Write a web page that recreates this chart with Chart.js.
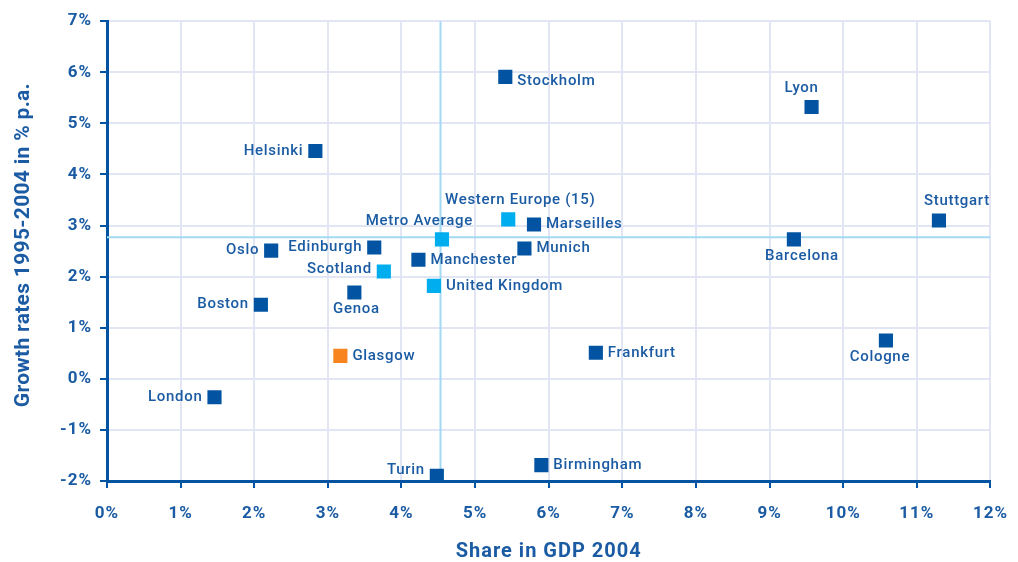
<!DOCTYPE html>
<html>
<head>
<meta charset="utf-8">
<script src="https://cdn.jsdelivr.net/npm/chart.js@4/dist/chart.umd.min.js"></script>
<style>
  html, body { margin: 0; background: #fff; overflow: hidden; }
  #wrap { width: 1024px; height: 559px; padding-top: 3px; }
</style>
</head>
<body>
<div id="wrap"><canvas id="c"></canvas></div>
<script>
const cities = ["Stockholm", "Lyon", "Helsinki", "Stuttgart", "Western Europe (15)", "Marseilles",
    "Metro Average", "Barcelona", "Edinburgh", "Oslo", "Munich", "Manchester", "Scotland",
    "United Kingdom", "Genoa", "Boston", "Cologne", "Glasgow", "Frankfurt", "London",
    "Birmingham", "Turin"];
const gdpShare = [5.41, 9.57, 2.83, 11.30, 5.45, 5.80, 4.55, 9.33, 3.63, 2.23, 5.67, 4.23, 3.76,
    4.44, 3.36, 2.09, 10.58, 3.17, 6.64, 1.46, 5.90, 4.48];
const growthRate = [5.91, 5.32, 4.46, 3.10, 3.12, 3.02, 2.73, 2.73, 2.57, 2.51, 2.55, 2.33, 2.10,
    1.82, 1.69, 1.45, 0.75, 0.45, 0.51, -0.36, -1.69, -1.90];
// "city", "ref" (aggregates) or "focus" (Glasgow)
const kind = ["city", "city", "city", "city", "ref", "city", "ref", "city", "city", "city", "city",
    "city", "ref", "ref", "city", "city", "city", "focus", "city", "city", "city", "city"];
const avgShare = 4.53;
const avgGrowth = 2.77;

const xTicks = { min: 0, max: 12, step: 1 };
const yTicks = { min: -2, max: 7, step: 1 };

// where each label sits relative to its marker
const labelSide = ["r", "t", "l", "t", "t", "r", "tl", "b", "l", "l", "r", "r", "l", "r", "b", "l",
    "b", "r", "r", "l", "r", "l"];
const labelNudge = {
    "Stockholm": [0, 4], "Lyon": [-10, 0], "Stuttgart": [18, 0], "Western Europe (15)": [12, 0],
    "Turin": [0, -6], "Scotland": [0, -2], "Genoa": [2, 0], "Cologne": [-6, 0], "Barcelona": [8, 0],
};

const DARK = "#0254a2";
const LIGHT = "#00aeef";
const ORANGE = "#f7841f";
const TEXT = "#1a5ba3";
const GRID = "#e2e5f4";

const colorFor = (k) => (k === "ref" ? LIGHT : k === "focus" ? ORANGE : DARK);

// DIN-like look: a little extra tracking on all canvas text
const tracking = {
    id: "tracking",
    beforeLayout(chart) { chart.ctx.letterSpacing = "1px"; },
    beforeDraw(chart) { chart.ctx.letterSpacing = "1px"; },
};

const pointLabels = {
    id: "pointLabels",
    afterDatasetsDraw(chart) {
        const ctx = chart.ctx;
        const meta = chart.getDatasetMeta(2);
        ctx.save();
        ctx.font = "500 15px Roboto";
        ctx.letterSpacing = "0.7px";
        ctx.fillStyle = TEXT;
        ctx.textBaseline = "middle";
        meta.data.forEach((pt, i) => {
            const name = cities[i];
            const [dx, dy] = labelNudge[name] || [0, 0];
            let x = pt.x, y = pt.y;
            switch (labelSide[i]) {
                case "r": ctx.textAlign = "left"; x += 12; break;
                case "l": ctx.textAlign = "right"; x -= 12; break;
                case "t": ctx.textAlign = "center"; y -= 19; break;
                case "b": ctx.textAlign = "center"; y += 17; break;
                case "tl": ctx.textAlign = "right"; x += 31; y -= 18; break;
            }
            ctx.fillText(name, x + dx, y + dy);
        });
        ctx.restore();
    },
};

const yTitle = {
    id: "yTitle",
    afterDraw(chart) {
        const ctx = chart.ctx;
        const area = chart.chartArea;
        ctx.save();
        ctx.translate(24, (area.top + area.bottom) / 2 - 6);
        ctx.rotate(-Math.PI / 2);
        ctx.font = "bold 21px Roboto";
        ctx.letterSpacing = "0.3px";
        ctx.fillStyle = TEXT;
        ctx.textAlign = "center";
        ctx.textBaseline = "middle";
        ctx.fillText("Growth rates 1995-2004 in % p.a.", 0, 0);
        ctx.restore();
    },
};

const points = gdpShare.map((x, i) => ({ x, y: growthRate[i] }));

new Chart(document.getElementById("c"), {
    type: "scatter",
    data: {
        datasets: [
            {
                type: "line",
                data: [{ x: avgShare, y: yTicks.min }, { x: avgShare, y: yTicks.max }],
                borderColor: "#a3d9f2",
                borderWidth: 2,
                pointRadius: 0,
                order: 3,
            },
            {
                type: "line",
                data: [{ x: xTicks.min, y: avgGrowth }, { x: xTicks.max, y: avgGrowth }],
                borderColor: "#a3d9f2",
                borderWidth: 2,
                pointRadius: 0,
                order: 2,
            },
            {
                data: points,
                pointStyle: "rect",
                pointRadius: 10,
                pointHoverRadius: 10,
                borderWidth: 0,
                backgroundColor: kind.map(colorFor),
                order: 1,
            },
        ],
    },
    options: {
        responsive: true,
        maintainAspectRatio: false,
        animation: false,
        layout: { padding: { top: 17, right: 18, bottom: 0, left: 0 } },
        plugins: { legend: { display: false }, tooltip: { enabled: false } },
        scales: {
            x: {
                type: "linear",
                min: xTicks.min,
                max: xTicks.max,
                ticks: {
                    stepSize: xTicks.step,
                    color: TEXT,
                    font: { family: "Roboto", weight: "bold", size: 17 },
                    padding: 16,
                    callback: (v) => v + "%",
                },
                grid: { color: GRID, lineWidth: 2, tickColor: DARK, tickLength: 7, tickWidth: 2 },
                border: { color: DARK, width: 3 },
                title: {
                    display: true,
                    text: "Share in GDP 2004",
                    color: TEXT,
                    font: { family: "Roboto", weight: "bold", size: 20, lineHeight: 1 },
                    padding: { top: 10, bottom: 0 },
                },
                afterFit: (s) => { s.height = 81; },
            },
            y: {
                type: "linear",
                min: yTicks.min,
                max: yTicks.max,
                ticks: {
                    stepSize: yTicks.step,
                    color: TEXT,
                    font: { family: "Roboto", weight: "bold", size: 17 },
                    padding: 8,
                    callback: (v) => v + "%",
                },
                grid: { color: GRID, lineWidth: 2, tickColor: DARK, tickLength: 7, tickWidth: 2 },
                border: { color: DARK, width: 3 },
                afterFit: (s) => { s.width = 107; },
            },
        },
    },
    plugins: [tracking, pointLabels, yTitle],
});
</script>
</body>
</html>
